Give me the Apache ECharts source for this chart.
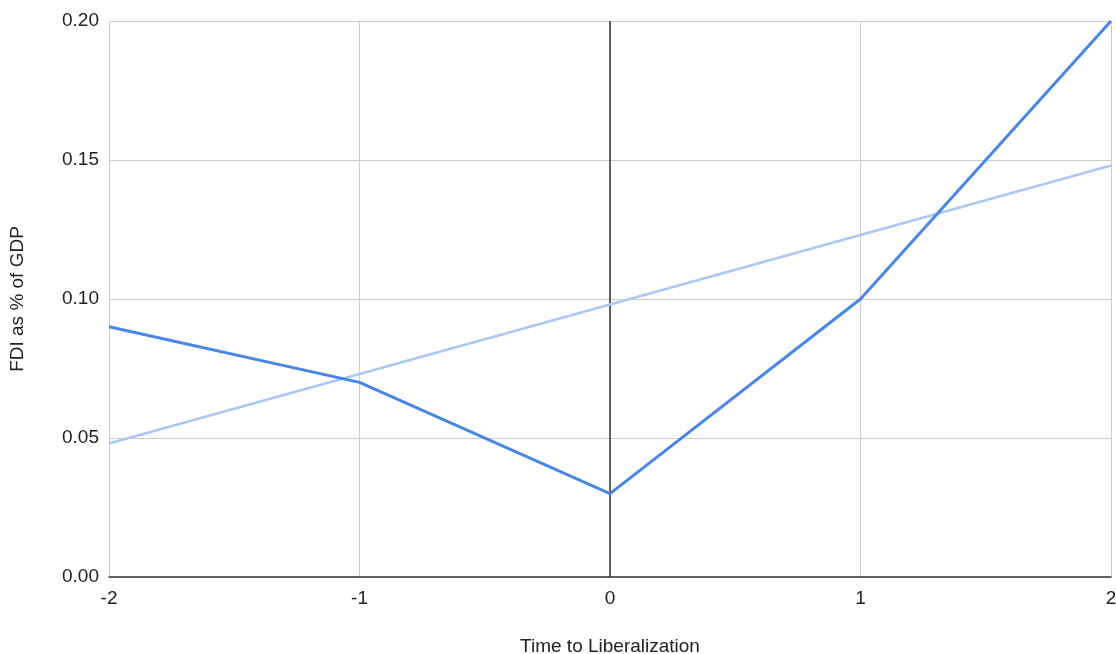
<!DOCTYPE html>
<html><head><meta charset="utf-8">
<script src="https://cdn.jsdelivr.net/npm/echarts@6/dist/echarts.min.js"></script>
<style>html,body{margin:0;padding:0;background:#fff}#c{width:1116px;height:654px}</style>
</head><body><div id="c"></div>
<script>
const xValues = [-2, -1, 0, 1, 2];
const fdiValues = [0.09, 0.07, 0.03, 0.10, 0.20];
const trendX = [-2, 2];
const trendY = [0.048, 0.148];
const xTitle = 'Time to Liberalization';
const yTitle = 'FDI as % of GDP';

const font = '"Liberation Sans", Arial, sans-serif';
const chart = echarts.init(document.getElementById('c'), null, {renderer: 'canvas'});
chart.setOption({
  animation: false,
  grid: {left: 109, right: 5, top: 21, bottom: 77, containLabel: false, outerBoundsMode: 'none'},
  xAxis: {
    type: 'value', min: -2, max: 2, interval: 1,
    name: xTitle, nameLocation: 'middle', nameGap: 60,
    nameTextStyle: {fontFamily: font, fontSize: 19, color: '#222'},
    axisLine: {show: true, onZero: false, lineStyle: {color: '#333', width: 1.5}},
    axisTick: {show: false},
    axisLabel: {fontFamily: font, fontSize: 19, color: '#222', margin: 12},
    splitLine: {show: true, lineStyle: {color: '#cccccc', width: 1}}
  },
  yAxis: {
    type: 'value', min: 0, max: 0.2, interval: 0.05,
    name: yTitle, nameLocation: 'middle', nameGap: 82, nameRotate: 90,
    nameTextStyle: {fontFamily: font, fontSize: 19, color: '#222'},
    axisLine: {show: false},
    axisTick: {show: false},
    axisLabel: {fontFamily: font, fontSize: 19, color: '#222', margin: 10,
      formatter: v => v.toFixed(2)},
    splitLine: {show: true, lineStyle: {color: '#cccccc', width: 1}}
  },
  series: [
    {
      type: 'line',
      data: trendX.map((x, i) => [x, trendY[i]]),
      symbol: 'none',
      lineStyle: {color: '#a9c8f6', width: 2.5},
      z: 2
    },
    {
      type: 'line',
      data: xValues.map((x, i) => [x, fdiValues[i]]),
      symbol: 'none',
      lineStyle: {color: '#4a86e8', width: 3},
      z: 3,
      markLine: {
        silent: true, symbol: 'none', label: {show: false},
        lineStyle: {color: '#333', width: 1.5, type: 'solid'},
        data: [{xAxis: 0}],
        z: 1
      }
    }
  ]
});
</script></body></html>
